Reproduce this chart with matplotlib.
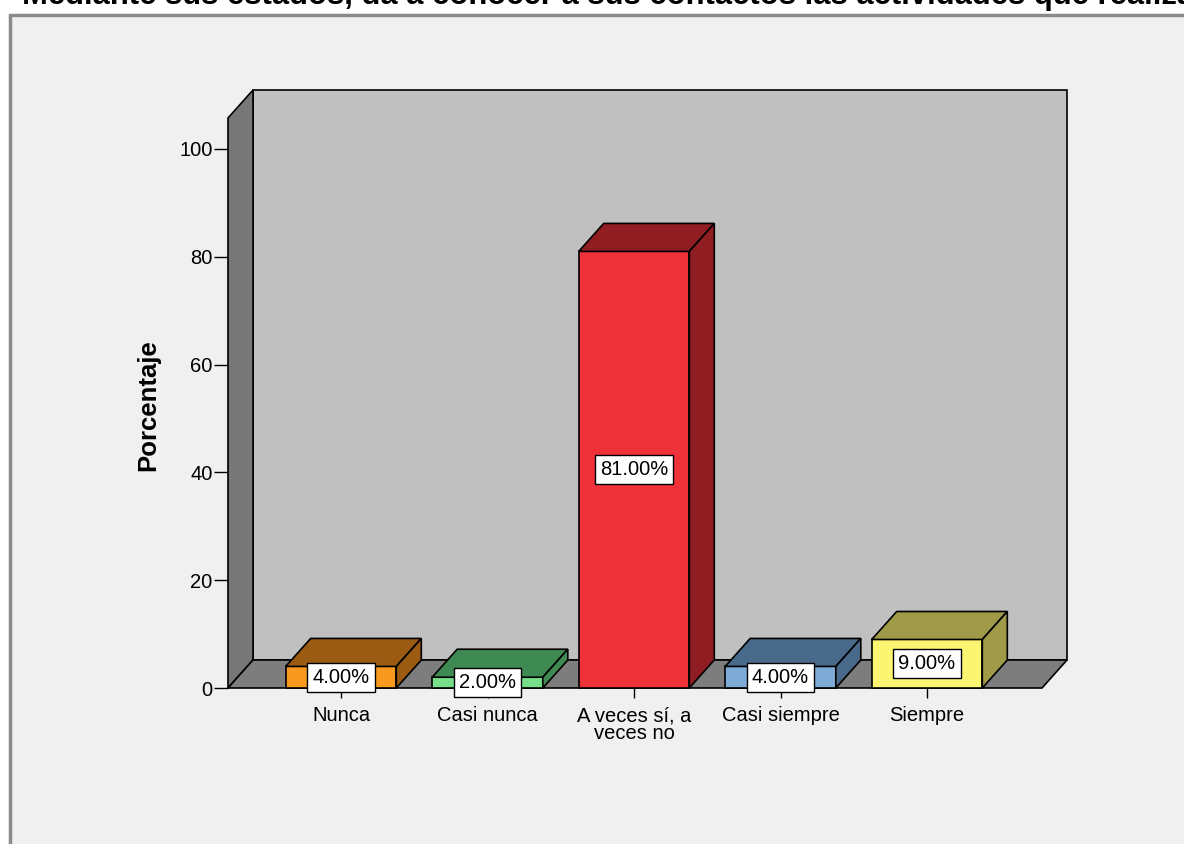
import matplotlib
matplotlib.use("Agg")
import matplotlib.pyplot as plt
from matplotlib.patches import Polygon, Rectangle

plt.rcParams['font.family'] = ['Liberation Sans', 'DejaVu Sans']

title = "Mediante sus estados, da a conocer a sus contactos las actividades que realiza"
categories = ["Nunca", "Casi nunca", "A veces sí, a\nveces no", "Casi siempre", "Siempre"]
values = [4.0, 2.0, 81.0, 4.0, 9.0]
front_colors = ["#f7981f", "#77df8a", "#ef313a", "#7eaad8", "#fbf571"]
dark_colors = ["#9b5b12", "#3f8a52", "#901d22", "#49698a", "#9e9a48"]
yticks = [0, 20, 40, 60, 80, 100]
ylabel = "Porcentaje"

W, H = 1184, 844
fig = plt.figure(figsize=(W / 100, H / 100), dpi=100)
fig.patch.set_facecolor("white")

# outer frame
fig.patches.append(Rectangle((10 / W, -0.05), 1.2, (H - 15) / H + 0.05,
                             transform=fig.transFigure, fc="#f0f0f0",
                             ec="#8a8a8a", lw=2.5, zorder=-5))

fig.text(22 / W, 1 - 4 / H, title, fontsize=22.3, fontweight="bold",
         ha="left", va="baseline", zorder=-4)

left_px, right_px, bot_px, top_px = 228, 1042, 688, 118
ax = fig.add_axes([left_px / W, (H - bot_px) / H,
                   (right_px - left_px) / W, (bot_px - top_px) / H])
ax.set_zorder(2)
px_per_unit_y = (688 - 149) / 100.0
px_per_cat = 146.5
x0 = -(341 - 228) / px_per_cat
x1 = x0 + (right_px - left_px) / px_per_cat
ytop = (bot_px - top_px) / px_per_unit_y
ax.set_xlim(x0, x1)
ax.set_ylim(0, ytop)
ax.patch.set_visible(False)
for s in ax.spines.values():
    s.set_visible(False)

DX = 25 / px_per_cat
DY = 28 / px_per_unit_y

def poly(pts, fc, z=1):
    ax.add_patch(Polygon(pts, closed=True, fc=fc, ec="black", lw=1.2,
                         clip_on=False, zorder=z, joinstyle="miter"))

# walls
poly([(x0 + DX, DY), (x1 + DX, DY), (x1 + DX, ytop + DY), (x0 + DX, ytop + DY)], "#c0c0c0")
poly([(x0, 0), (x0 + DX, DY), (x0 + DX, ytop + DY), (x0, ytop)], "#777777")
poly([(x0, 0), (x1, 0), (x1 + DX, DY), (x0 + DX, DY)], "#7d7d7d")

bw = 0.755
for i, (v, fc, dc) in enumerate(zip(values, front_colors, dark_colors)):
    l, r = i - bw / 2, i + bw / 2
    poly([(l, 0), (r, 0), (r, v), (l, v)], fc, 3)
    poly([(l, v), (r, v), (r + DX, v + DY), (l + DX, v + DY)], dc, 3)
    poly([(r, 0), (r + DX, DY), (r + DX, v + DY), (r, v)], dc, 3)

ax.set_xticks(range(len(categories)))
ax.set_xticklabels(categories, fontsize=14.5, linespacing=0.9)
ax.set_yticks(yticks)
ax.set_yticklabels([str(t) for t in yticks], fontsize=14.5)
ax.tick_params(axis="x", length=7, width=1, pad=6)
ax.tick_params(axis="y", length=10, width=1, pad=1)

for i, v in enumerate(values):
    ax.text(i, v / 2, f"{v:.2f}%", ha="center", va="center", fontsize=14.5,
            zorder=6, bbox=dict(boxstyle="square,pad=0.25", fc="white",
                                ec="black", lw=1))

ax.set_ylabel(ylabel, fontsize=18.5, fontweight="bold", va="center")
ax.yaxis.set_label_coords((148 - left_px) / (right_px - left_px),
                          (bot_px - 405) / (bot_px - top_px))

fig.savefig("out.png", dpi=100)
